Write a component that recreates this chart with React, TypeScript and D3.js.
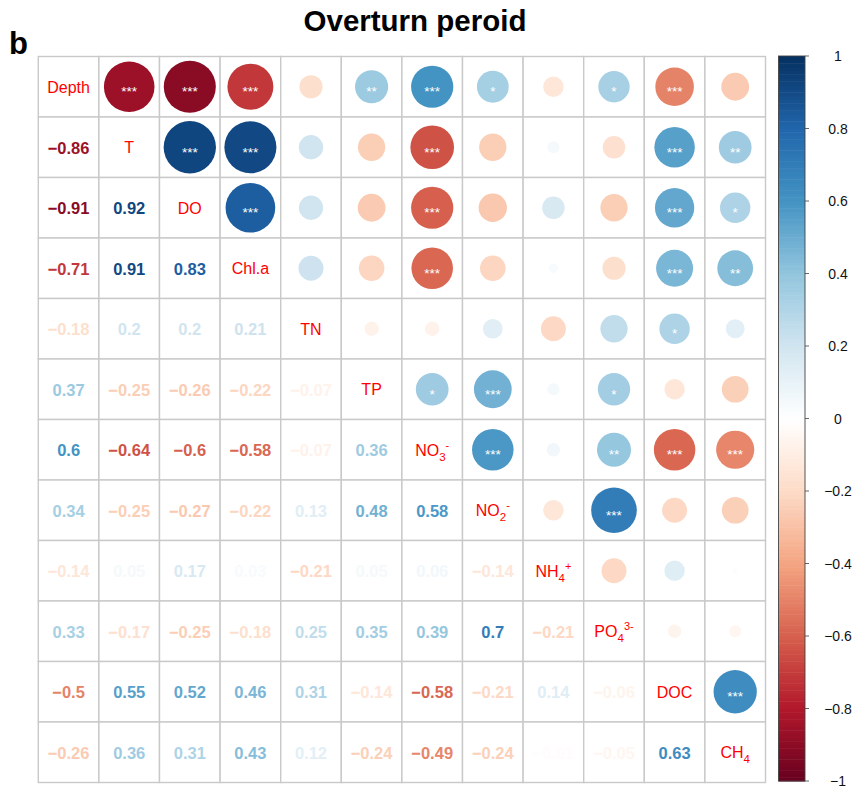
import React from "react";
import * as d3 from "d3";

// Variable names in matrix order
const variables = ["Depth", "T", "DO", "Chl.a", "TN", "TP", "NO3", "NO2", "NH4", "PO4", "DOC", "CH4"];

// Lower-triangle correlation coefficients: row i holds r(i, 0..i-1)
const corrRows: number[][] = [
  [],
  [-0.86],
  [-0.91, 0.92],
  [-0.71, 0.91, 0.83],
  [-0.18, 0.2, 0.2, 0.21],
  [0.37, -0.25, -0.26, -0.22, -0.07],
  [0.6, -0.64, -0.6, -0.58, -0.07, 0.36],
  [0.34, -0.25, -0.27, -0.22, 0.13, 0.48, 0.58],
  [-0.14, 0.05, 0.17, 0.03, -0.21, 0.05, 0.06, -0.14],
  [0.33, -0.17, -0.25, -0.18, 0.25, 0.35, 0.39, 0.7, -0.21],
  [-0.5, 0.55, 0.52, 0.46, 0.31, -0.14, -0.58, -0.21, 0.14, -0.06],
  [-0.26, 0.36, 0.31, 0.43, 0.12, -0.24, -0.49, -0.24, -0.01, -0.05, 0.63],
];

// Significance marks for the same pairs
const starRows: string[][] = [
  [],
  ["***"],
  ["***", "***"],
  ["***", "***", "***"],
  ["", "", "", ""],
  ["**", "", "", "", ""],
  ["***", "***", "***", "***", "", "*"],
  ["*", "", "", "", "", "***", "***"],
  ["", "", "", "", "", "", "", ""],
  ["*", "", "", "", "", "*", "**", "***", ""],
  ["***", "***", "***", "***", "*", "", "***", "", "", ""],
  ["", "**", "*", "**", "", "", "***", "", "", "", "***"],
];

// Diagonal labels: base text, subscript, superscript
const diagLabels: [string, string, string][] = [
  ["Depth", "", ""],
  ["T", "", ""],
  ["DO", "", ""],
  ["Chl.a", "", ""],
  ["TN", "", ""],
  ["TP", "", ""],
  ["NO", "3", "-"],
  ["NO", "2", "-"],
  ["NH", "4", "+"],
  ["PO", "4", "3-"],
  ["DOC", "", ""],
  ["CH", "4", ""],
];

const legendTicks = [1, 0.8, 0.6, 0.4, 0.2, 0, -0.2, -0.4, -0.6, -0.8, -1];

const rdbu = ["#67001F", "#B2182B", "#D6604D", "#F4A582", "#FDDBC7", "#FFFFFF", "#D1E5F0", "#92C5DE", "#4393C3", "#2166AC", "#053061"];

const FONT = "'Liberation Sans', Arial, Helvetica, sans-serif";

const fmt = (v: number) => String(v).replace("-", "\u2212");

export default function App() {
  const W = 862;
  const H = 788;
  const left = 38.3, right = 765.5, top = 56.5, bottom = 782.5;

  const x = d3.scaleBand<string>().domain(variables).range([left, right]);
  const y = d3.scaleBand<string>().domain(variables).range([top, bottom]);
  const cw = x.bandwidth();
  const ch = y.bandwidth();

  const color = d3
    .scaleLinear<string>()
    .domain(d3.range(rdbu.length).map((i) => -1 + (2 * i) / (rdbu.length - 1)))
    .range(rdbu)
    .interpolate(d3.interpolateRgb)
    .clamp(true);

  const radius = d3.scaleSqrt().domain([0, 1]).range([0, 0.45 * cw]);

  // Colour legend
  const lx0 = 778.5, lx1 = 805;
  const ly = d3.scaleLinear().domain([-1, 1]).range([781, 56]);
  const nSteps = 200;
  const steps = d3.range(nSteps).map((i) => -1 + (2 * (i + 0.5)) / nSteps);

  const cells: React.ReactNode[] = [];
  variables.forEach((ri, i) => {
    variables.forEach((cj, j) => {
      cells.push(
        <rect key={`g-${i}-${j}`} x={x(cj)} y={y(ri)} width={cw} height={ch} fill="#fff" stroke="#c9c9c9" strokeWidth={1.4} />
      );
    });
  });

  const marks: React.ReactNode[] = [];
  corrRows.forEach((row, i) => {
    row.forEach((r, j) => {
      // lower triangle: coefficient text
      const lx = (x(variables[j]) as number) + cw / 2;
      const lyc = (y(variables[i]) as number) + ch / 2;
      marks.push(
        <text key={`n-${i}-${j}`} x={lx} y={lyc + 6.5} textAnchor="middle" fontFamily={FONT} fontWeight="bold" fontSize={16.5} fill={color(r)}>
          {fmt(r)}
        </text>
      );
      // upper triangle: circle with significance marks
      const ux = (x(variables[i]) as number) + cw / 2;
      const uy = (y(variables[j]) as number) + ch / 2;
      marks.push(<circle key={`c-${i}-${j}`} cx={ux} cy={uy} r={radius(Math.abs(r))} fill={color(r)} />);
      const s = starRows[i][j];
      if (s) {
        marks.push(
          <text key={`s-${i}-${j}`} x={ux} y={uy + 9.5} textAnchor="middle" fontFamily={FONT} fontSize={13.5} fill="#fff">
            {s}
          </text>
        );
      }
    });
  });

  const diag = diagLabels.map(([base, sub, sup], i) => {
    const cx = (x(variables[i]) as number) + cw / 2;
    const cy = (y(variables[i]) as number) + ch / 2;
    return (
      <text key={`d-${i}`} x={cx} y={cy + 6} textAnchor="middle" fontFamily={FONT} fontSize={16} fill="#FF0000">
        {base}
        {sub && (
          <tspan fontSize={11.5} dy={5}>
            {sub}
          </tspan>
        )}
        {sup && (
          <tspan fontSize={11} dy={sub ? -12 : -7}>
            {sup}
          </tspan>
        )}
      </text>
    );
  });

  return (
    <svg width={W} height={H} style={{ position: "absolute", left: 0, top: 0, background: "#fff" }}>
      <text x={415} y={31} textAnchor="middle" fontFamily={FONT} fontWeight="bold" fontSize={29.5}>
        Overturn peroid
      </text>
      <text x={9} y={54} fontFamily={FONT} fontWeight="bold" fontSize={31}>
        b
      </text>
      <g>{cells}</g>
      <g>{marks}</g>
      <g>{diag}</g>
      <g>
        {steps.map((v, i) => (
          <rect key={`l-${i}`} x={lx0} y={ly(v + 1 / nSteps)} width={lx1 - lx0} height={ly(v - 1 / nSteps) - ly(v + 1 / nSteps) + 0.5} fill={color(v)} />
        ))}
        <rect x={lx0} y={ly(1)} width={lx1 - lx0} height={ly(-1) - ly(1)} fill="none" stroke="#444" strokeWidth={0.9} />
        {legendTicks.map((t) => (
          <g key={`t-${t}`}>
            <line x1={lx1} x2={lx1 + 4} y1={ly(t)} y2={ly(t)} stroke="#555" strokeWidth={0.9} />
            <text x={838} y={ly(t) + 5} textAnchor="middle" fontFamily={FONT} fontSize={14} fill="#111">
              {fmt(t)}
            </text>
          </g>
        ))}
      </g>
    </svg>
  );
}
